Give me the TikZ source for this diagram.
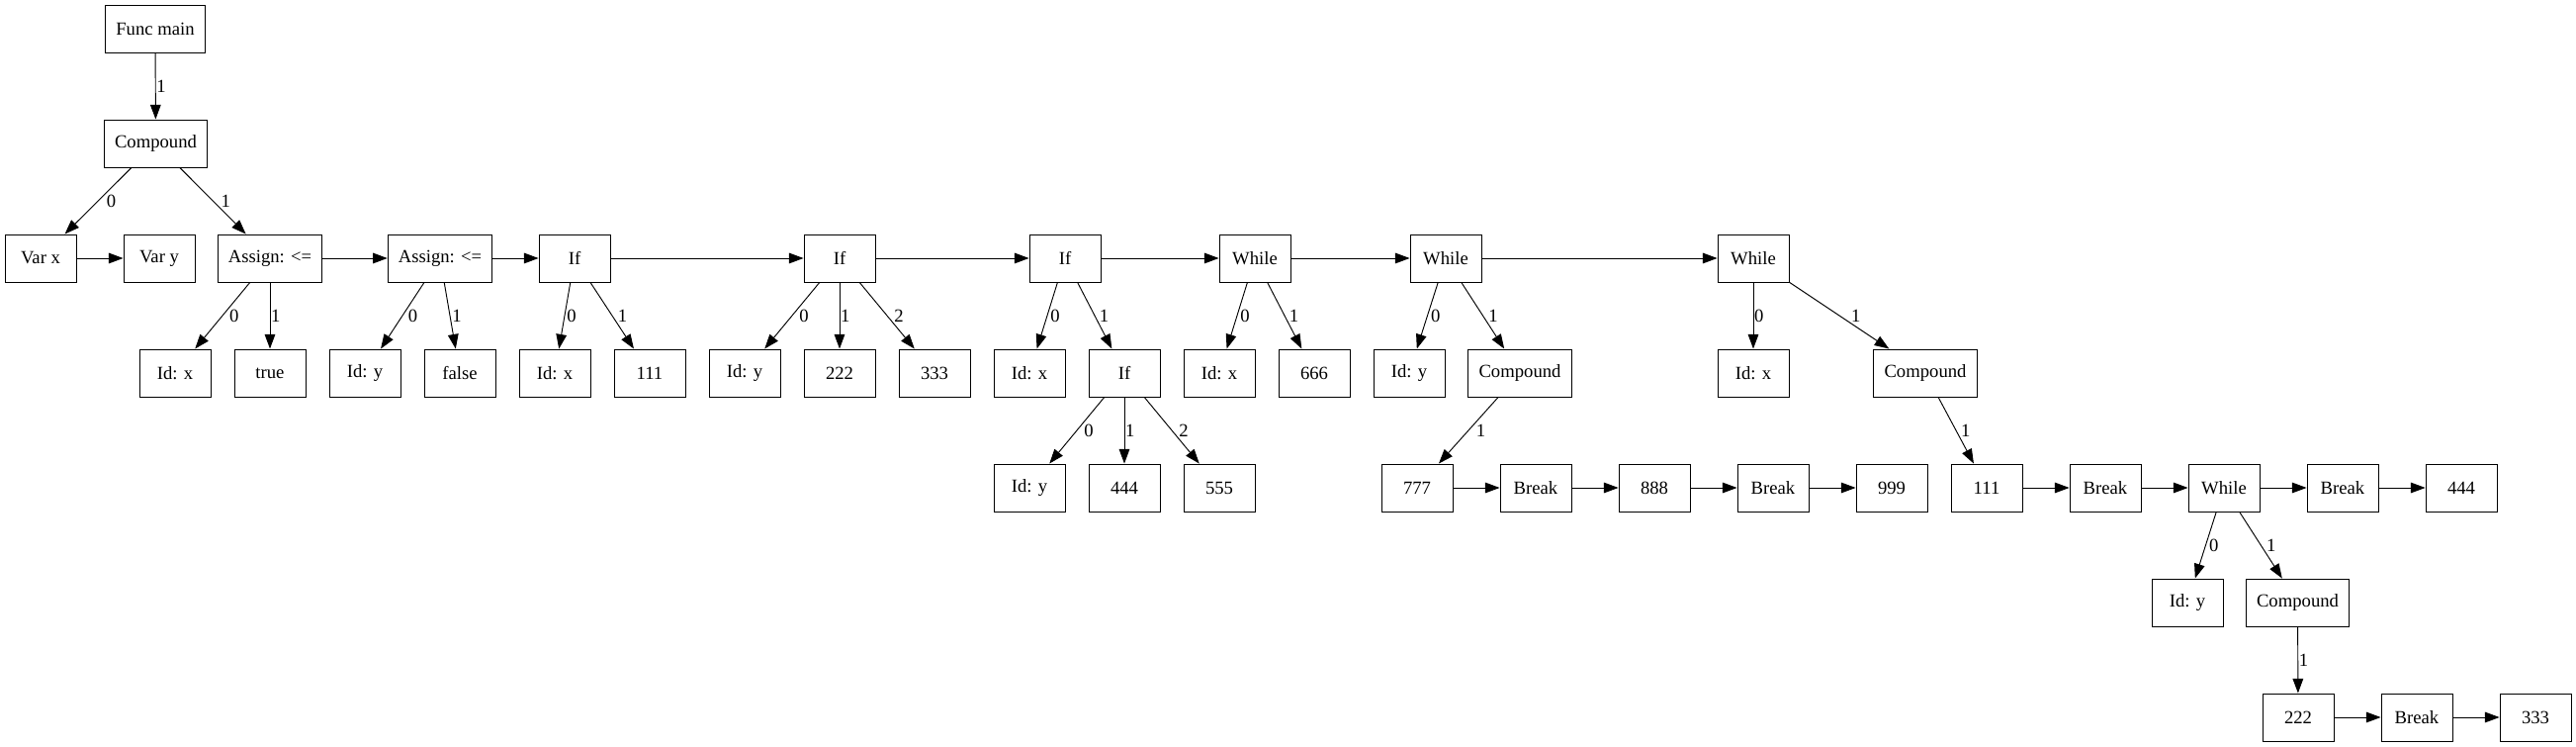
\documentclass[tikz,border=0pt]{standalone}
\usepackage{fontspec}
\setmainfont{Liberation Serif}
\usetikzlibrary{arrows.meta}

\begin{document}
\begin{tikzpicture}[x=0.75pt,y=-0.75pt]
	
	\tikzset{vertex/.style = {shape=rectangle,draw,line width=0.7pt,minimum width=54pt,minimum height=36pt,inner xsep=8pt,font=\fontsize{14}{16}\selectfont}}
	\tikzset{edge/.style = {-{Triangle[length=11pt,width=8pt]},line width=0.7pt}}
	\tikzset{lab/.style = {auto,inner sep=0.5pt,font=\fontsize{14}{16}\selectfont}}
	\tikzset{labl/.style = {lab,pos=0.39}}
	\tikzset{labr/.style = {lab,pos=0.61}}
	
	\useasboundingbox (0,0) rectangle (2605,755);
	
	% top
	\node[vertex] (fm) at (157,29) {Func main};
	\node[vertex] (cmp1) at (157.5,145) {Compound};
	
	% statements
	\node[vertex] (varx) at (41,261) {Var x};
	\node[vertex] (vary) at (161,261) {Var y};
	\node[vertex] (asg1) at (273,261) {Assign: <=};
	\node[vertex] (asg2) at (445,261) {Assign: <=};
	\node[vertex] (if1) at (581,261) {If};
	\node[vertex] (if2) at (849,261) {If};
	\node[vertex] (if3) at (1077,261) {If};
	\node[vertex] (wh1) at (1269,261) {While};
	\node[vertex] (wh2) at (1462,261) {While};
	\node[vertex] (wh3) at (1773,261) {While};
	
	\node[vertex] (idx1) at (177,377) {Id: x};
	\node[vertex] (tru) at (273,377) {true};
	\node[vertex] (idy1) at (369,377) {Id: y};
	\node[vertex] (fls) at (465,377) {false};
	\node[vertex] (idx2) at (561,377) {Id: x};
	\node[vertex] (n111a) at (657,377) {111};
	\node[vertex] (idy2) at (753,377) {Id: y};
	\node[vertex] (n222a) at (849,377) {222};
	\node[vertex] (n333a) at (945,377) {333};
	\node[vertex] (idx3) at (1041,377) {Id: x};
	\node[vertex] (if4) at (1137,377) {If};
	\node[vertex] (idx4) at (1233,377) {Id: x};
	\node[vertex] (n666) at (1329,377) {666};
	\node[vertex] (idy3) at (1425,377) {Id: y};
	\node[vertex] (cmp2) at (1537,377) {Compound};
	\node[vertex] (idx5) at (1773,377) {Id: x};
	\node[vertex] (cmp3) at (1947,377) {Compound};
	
	\node[vertex] (idy4) at (1041,493) {Id: y};
	\node[vertex] (n444a) at (1137,493) {444};
	\node[vertex] (n555) at (1233,493) {555};
	\node[vertex] (n777) at (1433,493) {777};
	\node[vertex] (brk1) at (1553,493) {Break};
	\node[vertex] (n888) at (1673,493) {888};
	\node[vertex] (brk2) at (1793,493) {Break};
	\node[vertex] (n999) at (1913,493) {999};
	\node[vertex] (n111b) at (2009,493) {111};
	\node[vertex] (brk3) at (2129,493) {Break};
	\node[vertex] (wh4) at (2249,493) {While};
	\node[vertex] (brk4) at (2369,493) {Break};
	\node[vertex] (n444b) at (2489,493) {444};
	
	\node[vertex] (idy5) at (2212,609) {Id: y};
	\node[vertex] (cmp4) at (2323.5,609) {Compound};
	
	\node[vertex] (n222b) at (2324,725) {222};
	\node[vertex] (brk5) at (2444,725) {Break};
	\node[vertex] (n333b) at (2564,725) {333};
	
	% children
	\draw[edge] (fm) to node[lab] {1} (cmp1);
	\draw[edge] (cmp1) to node[labl] {0} (varx);
	\draw[edge] (cmp1) to node[labr] {1} (asg1);
	\draw[edge] (asg1) to node[labl] {0} (idx1);
	\draw[edge] (asg1) to node[lab] {1} (tru);
	\draw[edge] (asg2) to node[labl] {0} (idy1);
	\draw[edge] (asg2) to node[labr] {1} (fls);
	\draw[edge] (if1) to node[labl] {0} (idx2);
	\draw[edge] (if1) to node[labr] {1} (n111a);
	\draw[edge] (if2) to node[labl] {0} (idy2);
	\draw[edge] (if2) to node[lab] {1} (n222a);
	\draw[edge] (if2) to node[labr] {2} (n333a);
	\draw[edge] (if3) to node[labl] {0} (idx3);
	\draw[edge] (if3) to node[labr] {1} (if4);
	\draw[edge] (if4) to node[labl] {0} (idy4);
	\draw[edge] (if4) to node[lab] {1} (n444a);
	\draw[edge] (if4) to node[labr] {2} (n555);
	\draw[edge] (wh1) to node[labl] {0} (idx4);
	\draw[edge] (wh1) to node[labr] {1} (n666);
	\draw[edge] (wh2) to node[labl] {0} (idy3);
	\draw[edge] (wh2) to node[labr] {1} (cmp2);
	\draw[edge] (cmp2) to node[labl] {1} (n777);
	\draw[edge] (wh3) to node[lab] {0} (idx5);
	\draw[edge] (wh3) to node[labr] {1} (cmp3);
	\draw[edge] (cmp3) to node[labr] {1} (n111b);
	\draw[edge] (wh4) to node[labl] {0} (idy5);
	\draw[edge] (wh4) to node[labr] {1} (cmp4);
	\draw[edge] (cmp4) to node[lab] {1} (n222b);
	
	% next
	\draw[edge] (varx) to (vary);
	\draw[edge] (asg1) to (asg2);
	\draw[edge] (asg2) to (if1);
	\draw[edge] (if1) to (if2);
	\draw[edge] (if2) to (if3);
	\draw[edge] (if3) to (wh1);
	\draw[edge] (wh1) to (wh2);
	\draw[edge] (wh2) to (wh3);
	\draw[edge] (n777) to (brk1);
	\draw[edge] (brk1) to (n888);
	\draw[edge] (n888) to (brk2);
	\draw[edge] (brk2) to (n999);
	\draw[edge] (n111b) to (brk3);
	\draw[edge] (brk3) to (wh4);
	\draw[edge] (wh4) to (brk4);
	\draw[edge] (brk4) to (n444b);
	\draw[edge] (n222b) to (brk5);
	\draw[edge] (brk5) to (n333b);
	\end{tikzpicture}
\end{document}
